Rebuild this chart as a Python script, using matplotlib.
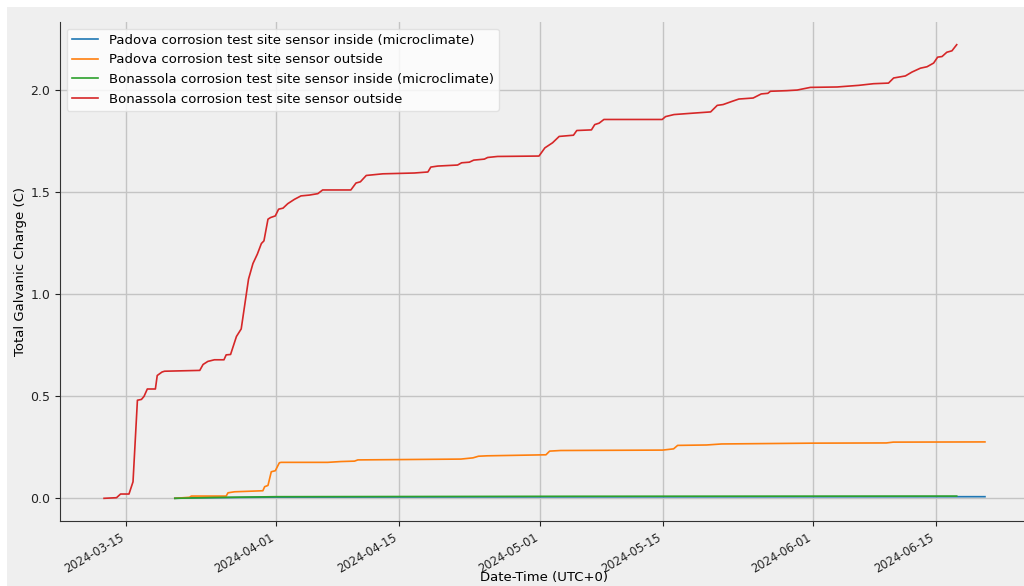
import matplotlib
matplotlib.use("Agg")
import matplotlib.pyplot as plt
import matplotlib.dates as mdates
from matplotlib.patches import Rectangle
import pandas as pd

# cumulative galvanic charge readings
red_time = [
    "2024-03-12 11:00", "2024-03-13 21:00", "2024-03-14 08:00", "2024-03-15 07:00",
    "2024-03-15 18:00", "2024-03-16 06:00", "2024-03-16 17:00", "2024-03-17 00:00",
    "2024-03-17 09:00", "2024-03-18 07:00", "2024-03-18 12:00", "2024-03-19 01:00",
    "2024-03-19 08:00", "2024-03-23 08:00", "2024-03-23 17:00", "2024-03-24 06:00",
    "2024-03-25 00:00", "2024-03-26 02:00", "2024-03-26 08:00", "2024-03-26 20:00",
    "2024-03-27 12:00", "2024-03-28 01:00", "2024-03-28 15:00", "2024-03-28 21:00",
    "2024-03-29 09:00", "2024-03-29 21:00", "2024-03-30 08:00", "2024-03-30 15:00",
    "2024-03-31 02:00", "2024-03-31 09:00", "2024-03-31 22:00", "2024-04-01 07:00",
    "2024-04-01 19:00", "2024-04-02 08:00", "2024-04-03 02:00", "2024-04-03 20:00",
    "2024-04-04 19:00", "2024-04-05 18:00", "2024-04-06 07:00", "2024-04-09 12:00",
    "2024-04-10 02:00", "2024-04-10 14:00", "2024-04-11 06:00", "2024-04-13 03:00",
    "2024-04-16 17:00", "2024-04-18 06:00", "2024-04-18 14:00", "2024-04-19 09:00",
    "2024-04-21 15:00", "2024-04-22 02:00", "2024-04-22 23:00", "2024-04-23 11:00",
    "2024-04-24 16:00", "2024-04-25 01:00", "2024-04-26 04:00", "2024-04-30 21:00",
    "2024-05-01 13:00", "2024-05-02 10:00", "2024-05-03 04:00", "2024-05-04 19:00",
    "2024-05-05 04:00", "2024-05-06 20:00", "2024-05-07 05:00", "2024-05-07 17:00",
    "2024-05-08 06:00", "2024-05-14 21:00", "2024-05-15 06:00", "2024-05-16 05:00",
    "2024-05-18 02:00", "2024-05-20 09:00", "2024-05-21 03:00", "2024-05-21 19:00",
    "2024-05-22 20:00", "2024-05-23 14:00", "2024-05-25 05:00", "2024-05-26 03:00",
    "2024-05-26 21:00", "2024-05-27 04:00", "2024-05-29 01:00", "2024-05-30 05:00",
    "2024-05-31 17:00", "2024-06-03 18:00", "2024-06-06 05:00", "2024-06-07 21:00",
    "2024-06-09 14:00", "2024-06-10 04:00", "2024-06-11 12:00", "2024-06-12 06:00",
    "2024-06-13 05:00", "2024-06-13 23:00", "2024-06-14 17:00", "2024-06-15 04:00",
    "2024-06-15 16:00", "2024-06-16 05:00", "2024-06-16 19:00", "2024-06-17 08:00",
]
red_charge = [
    0.0, 0.003, 0.021, 0.021, 0.081, 0.48, 0.484, 0.499, 0.535, 0.535, 0.601, 0.618,
    0.622, 0.626, 0.655, 0.670, 0.678, 0.678, 0.702, 0.704, 0.792, 0.829, 1.0, 1.073,
    1.149, 1.195, 1.247, 1.26, 1.366, 1.374, 1.382, 1.415, 1.42, 1.442, 1.463, 1.48,
    1.484, 1.491, 1.509, 1.509, 1.543, 1.549, 1.58, 1.588, 1.592, 1.597, 1.621, 1.626,
    1.631, 1.642, 1.645, 1.655, 1.66, 1.668, 1.673, 1.675, 1.715, 1.74, 1.771, 1.777,
    1.80, 1.803, 1.829, 1.836, 1.854, 1.854, 1.868, 1.878, 1.884, 1.891, 1.923, 1.927,
    1.943, 1.954, 1.959, 1.979, 1.982, 1.992, 1.995, 1.998, 2.011, 2.013, 2.021, 2.029,
    2.032, 2.057, 2.067, 2.086, 2.105, 2.112, 2.13, 2.159, 2.162, 2.183, 2.19, 2.22,
]

orange_time = [
    "2024-03-20 12:00", "2024-03-22 04:00", "2024-03-22 09:00", "2024-03-26 08:00",
    "2024-03-26 13:00", "2024-03-27 07:00", "2024-03-30 12:00", "2024-03-30 17:00",
    "2024-03-31 02:00", "2024-03-31 11:00", "2024-03-31 22:00", "2024-04-01 09:00",
    "2024-04-01 14:00", "2024-04-06 21:00", "2024-04-08 09:00", "2024-04-09 22:00",
    "2024-04-10 07:00", "2024-04-16 08:00", "2024-04-22 00:00", "2024-04-23 09:00",
    "2024-04-24 00:00", "2024-04-25 00:00", "2024-05-01 16:00", "2024-05-02 02:00",
    "2024-05-03 08:00", "2024-05-14 22:00", "2024-05-16 04:00", "2024-05-16 15:00",
    "2024-05-19 22:00", "2024-05-21 15:00", "2024-06-01 00:00", "2024-06-09 08:00",
    "2024-06-10 03:00", "2024-06-20 13:00",
]
orange_charge = [
    0.0, 0.005, 0.011, 0.011, 0.027, 0.032, 0.037, 0.057, 0.063, 0.13, 0.135, 0.174,
    0.176, 0.176, 0.18, 0.182, 0.188, 0.19, 0.192, 0.198, 0.206, 0.208, 0.213, 0.231,
    0.234, 0.236, 0.242, 0.259, 0.261, 0.266, 0.27, 0.271, 0.275, 0.276,
]

blue_time = ["2024-03-20 12:00", "2024-03-22 00:00", "2024-03-27 00:00",
             "2024-04-01 00:00", "2024-04-24 00:00", "2024-06-20 13:00"]
blue_charge = [0.0, 0.002, 0.004, 0.006, 0.007, 0.008]

green_time = ["2024-03-20 12:00", "2024-03-25 00:00", "2024-04-01 00:00",
              "2024-05-05 00:00", "2024-06-17 08:00"]
green_charge = [0.0, 0.004, 0.008, 0.010, 0.011]

labels = [
    "Padova corrosion test site sensor inside (microclimate)",
    "Padova corrosion test site sensor outside",
    "Bonassola corrosion test site sensor inside (microclimate)",
    "Bonassola corrosion test site sensor outside",
]
colors = ["tab:blue", "tab:orange", "tab:green", "tab:red"]

bg = "#efefef"
fig = plt.figure(figsize=(10.24, 5.86), dpi=100, facecolor=bg)
# thin white margin along the top and left edges
fig.patches.append(Rectangle((0, 1 - 7 / 586), 1, 7 / 586, transform=fig.transFigure,
                             facecolor="white", edgecolor="none", zorder=0))
fig.patches.append(Rectangle((0, 0), 7 / 1024, 1, transform=fig.transFigure,
                             facecolor="white", edgecolor="none", zorder=0))
ax = fig.add_axes([60 / 1024, 1 - 521 / 586, 969 / 1024, 499 / 586])
ax.set_facecolor(bg)

series = [(blue_time, blue_charge), (orange_time, orange_charge),
          (green_time, green_charge), (red_time, red_charge)]
for (t, v), lab, col in zip(series, labels, colors):
    ax.plot(pd.to_datetime(t), v, color=col, lw=1.2, label=lab)

ax.grid(True, color="#c4c4c4", lw=1)
ax.set_axisbelow(True)
for s in ["top", "right"]:
    ax.spines[s].set_visible(False)
ax.spines["left"].set_color("#333333")
ax.spines["bottom"].set_color("#333333")

ax.xaxis.set_major_locator(mdates.DayLocator(bymonthday=[1, 15]))
ax.xaxis.set_major_formatter(mdates.DateFormatter("%Y-%m-%d"))
ax.tick_params(axis="y", labelsize=9, colors="#222222")
ax.tick_params(axis="x", labelsize=8.3, colors="#222222")
for lbl in ax.get_xticklabels():
    lbl.set_rotation(30)
    lbl.set_ha("right")

ax.set_xlabel("Date-Time (UTC+0)", fontsize=9.5, labelpad=-3)
ax.set_ylabel("Total Galvanic Charge (C)", fontsize=9.5, labelpad=2)

ax.legend(loc="upper left", fontsize=9.5, frameon=True, facecolor="white",
          edgecolor="#dddddd", framealpha=0.8, fancybox=True)

fig.savefig("out.png", dpi=100, facecolor=fig.get_facecolor())
